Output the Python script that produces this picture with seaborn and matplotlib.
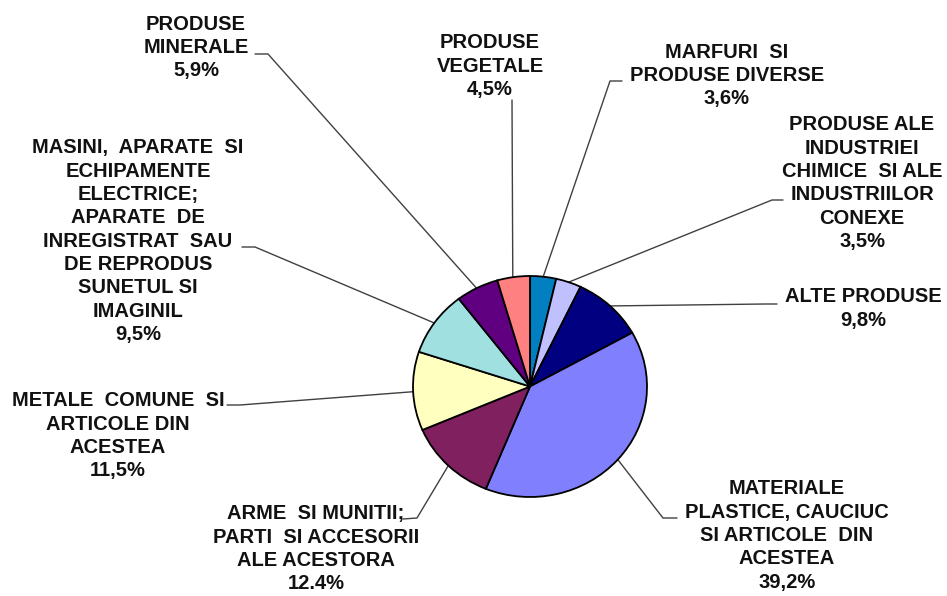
import numpy as np
import matplotlib
matplotlib.use("Agg")
import matplotlib.pyplot as plt
import seaborn as sns

# categories clockwise from 12 o'clock
categories = [
    "MARFURI  SI\nPRODUSE DIVERSE",
    "PRODUSE ALE\nINDUSTRIEI\nCHIMICE  SI ALE\nINDUSTRIILOR\nCONEXE",
    "ALTE PRODUSE",
    "MATERIALE\nPLASTICE, CAUCIUC\nSI ARTICOLE  DIN\nACESTEA",
    "ARME  SI MUNITII;\nPARTI  SI ACCESORII\nALE ACESTORA",
    "METALE  COMUNE  SI\nARTICOLE DIN\nACESTEA",
    "MASINI,  APARATE  SI\nECHIPAMENTE\nELECTRICE;\nAPARATE  DE\nINREGISTRAT  SAU\nDE REPRODUS\nSUNETUL SI\nIMAGINIL",
    "PRODUSE\nMINERALE",
    "PRODUSE\nVEGETALE",
]
shares = [3.6, 3.5, 9.8, 39.2, 12.4, 11.5, 9.5, 5.9, 4.5]
pct_labels = ["3,6%", "3,5%", "9,8%", "39,2%", "12.4%", "11,5%", "9,5%", "5,9%", "4,5%"]
colors = ["#0080C0", "#C0C0FF", "#000080", "#8080FF", "#80205F",
          "#FFFFC0", "#A0E0E0", "#600080", "#FF8080"]

# label layout in pixels: text centre x, first line y, leader stub start/end
text_pos = [(727, 52), (862, 125), (863, 297), (787, 489), (316, 514),
            (118, 401), (138, 148), (196, 24), (490, 43)]
stubs = [((622, 81), (610, 81)), ((783, 200), (772, 200)), ((777, 304), (765, 304)),
         ((677, 518), (663, 518)), ((403, 519), (417, 518)), ((227, 405), (240, 405)),
         ((242, 247), (255, 247)), ((255, 54), (268, 54)), ((512, 100), (512, 100))]

sns.set_theme(style="white")
plt.rcParams["font.family"] = ["Liberation Sans", "DejaVu Sans"]

W, H = 947, 596
fig = plt.figure(figsize=(W / 100, H / 100), dpi=100)
fig.patch.set_facecolor("white")

# pie box in pixels
cx, cy, rx, ry = 530, 386.5, 117, 110.5
ax = fig.add_axes([(cx - rx) / W, 1 - (cy + ry) / H, 2 * rx / W, 2 * ry / H])
ax.pie(shares, startangle=90, counterclock=False,
       colors=sns.color_palette(colors),
       wedgeprops=dict(edgecolor="black", linewidth=1.3))
ax.set_aspect("auto")
ax.set_xlim(-1, 1)
ax.set_ylim(-1, 1)
ax.axis("off")

ov = fig.add_axes([0, 0, 1, 1], zorder=-1)
ov.set_xlim(0, W)
ov.set_ylim(H, 0)
ov.axis("off")

cum = np.cumsum([0] + shares[:-1])
mids = 90 - (cum + np.array(shares) / 2) * 3.6
step = 23.3
for cat, pct, (tx, ty), (s0, s1), ang in zip(categories, pct_labels, text_pos, stubs, mids):
    lines = cat.split("\n") + [pct]
    for i, line in enumerate(lines):
        ov.text(tx, ty + i * step, line, ha="center", va="center",
                fontsize=14.5, fontweight="bold", color="#111111")
    a = np.deg2rad(ang)
    ex, ey = cx + rx * np.cos(a), cy - ry * np.sin(a)
    ov.plot([s0[0], s1[0], ex], [s0[1], s1[1], ey], color="#404040", lw=1.0)

fig.savefig("out.png", dpi=100)
